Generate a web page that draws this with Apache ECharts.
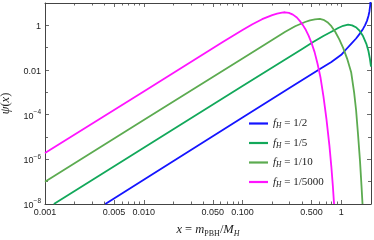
<!DOCTYPE html>
<html><head><meta charset="utf-8">
<script src="https://cdn.jsdelivr.net/npm/echarts@6/dist/echarts.min.js"></script>
<style>html,body{margin:0;padding:0;background:#fff}#c{width:374px;height:240px}</style>
</head><body><div id="c"></div>
<script>
// ---- data (x = m_PBH/M_H, psi(x)) ----
const xHalf   = [0.00408, 0.01, 0.1, 0.316, 0.631, 0.794, 1.0, 1.122, 1.259, 1.413, 1.549, 1.660, 1.738, 1.820, 1.884, 1.928, 1.963, 1.986];
const psiHalf = [1e-8, 1.23e-7, 7.4e-5, 1.82e-3, 0.0122, 0.0229, 0.0479, 0.0851, 0.148, 0.257, 0.437, 0.692, 1.0, 1.585, 2.63, 4.17, 7.94, 15.8];

const xFifth   = [0.00123, 0.01, 0.1, 0.251, 0.398, 0.524, 0.659, 0.830, 0.931, 1.045, 1.172, 1.288, 1.422, 1.538, 1.660, 1.795, 1.884, 1.950, 2.0];
const psiFifth = [1e-8, 3.31e-6, 1.91e-3, 0.024, 0.0851, 0.182, 0.335, 0.575, 0.759, 0.955, 1.072, 1.0, 0.794, 0.562, 0.331, 0.148, 0.0708, 0.0316, 0.0141];

const xTenth   = [0.001, 0.01, 0.1, 0.158, 0.271, 0.341, 0.430, 0.482, 0.541, 0.607, 0.661, 0.724, 0.794, 0.871, 0.955, 1.047, 1.148, 1.259, 1.349, 1.413, 1.479, 1.549, 1.603, 1.641];
const psiTenth = [1e-7, 5.75e-5, 0.0331, 0.117, 0.519, 0.912, 1.413, 1.679, 1.841, 1.95, 1.778, 1.380, 0.912, 0.501, 0.234, 0.0955, 0.0316, 7.94e-3, 1e-3, 1.58e-4, 1.26e-5, 7.94e-7, 6.31e-8, 1e-8];

const x5000   = [0.001, 0.01, 0.0631, 0.1, 0.126, 0.158, 0.2, 0.224, 0.251, 0.269, 0.295, 0.324, 0.355, 0.380, 0.407, 0.437, 0.468, 0.501, 0.537, 0.575, 0.617, 0.661, 0.708, 0.759, 0.794, 0.822, 0.845];
const psi5000 = [1.91e-6, 1.1e-3, 0.178, 0.617, 1.122, 1.884, 2.884, 3.365, 3.707, 3.846, 3.631, 3.02, 2.239, 1.585, 1.047, 0.631, 0.339, 0.158, 0.0631, 0.0191, 4.47e-3, 6.31e-4, 6.31e-5, 3.98e-6, 4.47e-7, 6.31e-8, 1e-8];

const seriesLabels = ['1/2', '1/5', '1/10', '1/5000'];
const seriesColors = ['#1414ff', '#12a85a', '#5cab50', '#ff14ff'];

const xTickValues = [0.001, 0.005, 0.01, 0.05, 0.1, 0.5, 1];
const xTickLabels = ['0.001', '0.005', '0.010', '0.050', '0.100', '0.500', '1'];
const xMinorTicks = [0.002,0.003,0.004,0.006,0.007,0.008,0.009,0.02,0.03,0.04,0.06,0.07,0.08,0.09,0.2,0.3,0.4,0.6,0.7,0.8,0.9,2];
const yTickValues = [1e-8, 1e-6, 1e-4, 0.01, 1];
const yTickLabels = ['{b|10}{sup|−8}', '{b|10}{sup|−6}', '{b|10}{sup|−4}', '{b|0.01}', '{b|1}'];
const yMinorTicks = [1e-7, 1e-5, 1e-3, 0.1, 10];
const xRange = [0.001, 2];
const yRange = [1e-8, 10];

// ---- chart ----
const L = Math.log10;
const frame = '#444';
const textCol = '#222';
const SERIF = 'Liberation Serif';
const SANS = 'Liberation Sans';

function pairs(xs, ys) { return xs.map((x, i) => [L(x), L(ys[i])]); }
function findIdx(arr, v) { return arr.findIndex(a => Math.abs(L(a) - v) < 1e-6); }

function xAx(pos, major, labels) {
  return {
    type: 'value', position: pos, min: L(xRange[0]), max: L(xRange[1]),
    axisLine: { show: major, onZero: false, lineStyle: { color: frame, width: 1 } },
    axisTick: { show: true, inside: true, length: major ? 4 : 2.5,
      customValues: (major ? xTickValues : xMinorTicks).map(L), lineStyle: { color: frame, width: 0.8 } },
    axisLabel: labels ? {
      show: true, customValues: xTickValues.map(L), fontSize: 9, fontFamily: SANS, color: textCol, margin: 4,
      formatter: v => { const i = findIdx(xTickValues, v); return i >= 0 ? xTickLabels[i] : ''; }
    } : { show: false },
    splitLine: { show: false }
  };
}
function yAx(pos, major, labels) {
  return {
    type: 'value', position: pos, min: L(yRange[0]), max: L(yRange[1]),
    axisLine: { show: major, onZero: false, lineStyle: { color: frame, width: 1 } },
    axisTick: { show: true, inside: true, length: major ? 4 : 3,
      customValues: (major ? yTickValues : yMinorTicks).map(L), lineStyle: { color: frame, width: 0.8 } },
    axisLabel: labels ? {
      show: true, customValues: yTickValues.map(L), margin: 4, color: textCol,
      formatter: v => { const i = findIdx(yTickValues, v); return i >= 0 ? yTickLabels[i] : ''; },
      rich: {
        b: { fontSize: 9, fontFamily: SANS, color: textCol, lineHeight: 12, verticalAlign: 'bottom' },
        sup: { fontSize: 6.5, fontFamily: SANS, color: textCol, lineHeight: 12, verticalAlign: 'top' }
      }
    } : { show: false },
    splitLine: { show: false }
  };
}

const xAxes = [xAx('bottom', true, true), xAx('bottom', false, false), xAx('top', true, false), xAx('top', false, false)];
xAxes[0].name = '{it|x}{rm| = }{it|m}{sub|PBH}{rm|/}{it|M}{isub|H}';
xAxes[0].nameLocation = 'middle';
xAxes[0].nameGap = 18;
xAxes[0].nameTextStyle = { rich: {
  it: { fontFamily: SERIF, fontStyle: 'italic', fontSize: 12.5, color: textCol, lineHeight: 16, verticalAlign: 'middle' },
  rm: { fontFamily: SERIF, fontSize: 12.5, color: textCol, lineHeight: 16, verticalAlign: 'middle' },
  sub: { fontFamily: SERIF, fontSize: 8, color: textCol, lineHeight: 8, verticalAlign: 'bottom' },
  isub: { fontFamily: SERIF, fontStyle: 'italic', fontSize: 8, color: textCol, lineHeight: 8, verticalAlign: 'bottom' }
} };
const yAxes = [yAx('left', true, true), yAx('left', false, false), yAx('right', true, false), yAx('right', false, false)];
yAxes[0].name = '{it|ψ}{rm|(}{it|x}{rm|)}';
yAxes[0].nameLocation = 'middle';
yAxes[0].nameGap = 31;
yAxes[0].nameTextStyle = { rich: {
  it: { fontFamily: SERIF, fontStyle: 'italic', fontSize: 12.5, color: textCol },
  rm: { fontFamily: SERIF, fontSize: 12.5, color: textCol }
} };

const datasets = [pairs(xHalf, psiHalf), pairs(xFifth, psiFifth), pairs(xTenth, psiTenth), pairs(x5000, psi5000)];
const series = datasets.map((d, i) => ({
  name: seriesLabels[i], type: 'line', data: d, xAxisIndex: 0, yAxisIndex: 0,
  showSymbol: false, symbol: 'none', smooth: false, clip: true,
  lineStyle: { color: seriesColors[i], width: 1.8, join: 'round' }, itemStyle: { color: seriesColors[i] }
}));

const chart = echarts.init(document.getElementById('c'), null, { renderer: 'canvas' });
chart.setOption({
  animation: false,
  backgroundColor: '#fff',
  grid: { left: 45, right: 3, top: 3, bottom: 36, containLabel: false, outerBoundsMode: 'none' },
  xAxis: xAxes,
  yAxis: yAxes,
  legend: {
    orient: 'vertical', left: 244, top: 113, itemWidth: 19, itemHeight: 2.2, itemGap: 7, icon: 'rect',
    data: seriesLabels,
    formatter: n => '{f|f}{s|H}{r| = ' + n + '}',
    textStyle: { rich: {
      f: { fontFamily: SERIF, fontStyle: 'italic', fontSize: 11, color: textCol, lineHeight: 14, verticalAlign: 'middle' },
      s: { fontFamily: SERIF, fontStyle: 'italic', fontSize: 7.5, color: textCol, lineHeight: 8, verticalAlign: 'bottom' },
      r: { fontFamily: SERIF, fontSize: 11, color: textCol, lineHeight: 14, verticalAlign: 'middle' }
    } }
  },
  series: series
});
</script>
</body></html>
